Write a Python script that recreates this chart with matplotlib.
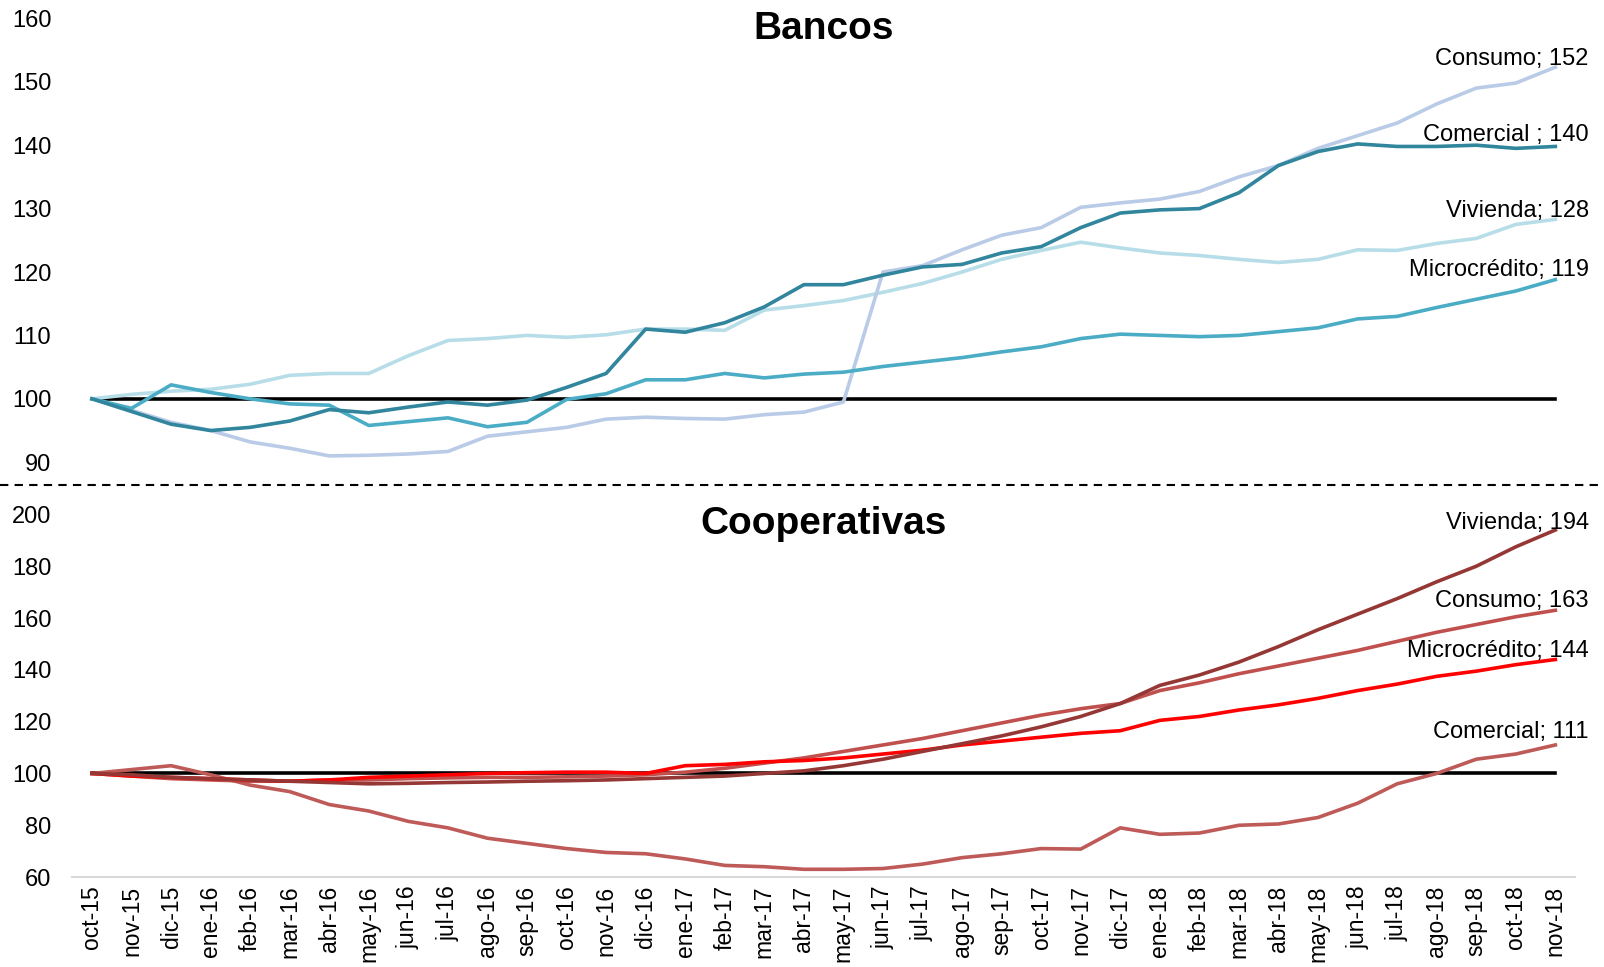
import matplotlib
matplotlib.use('Agg')
import matplotlib.pyplot as plt
import numpy as np
from matplotlib.lines import Line2D

plt.rcParams['font.family'] = ['Liberation Sans', 'DejaVu Sans']

meses = ['oct-15', 'nov-15', 'dic-15', 'ene-16', 'feb-16', 'mar-16', 'abr-16', 'may-16',
         'jun-16', 'jul-16', 'ago-16', 'sep-16', 'oct-16', 'nov-16', 'dic-16', 'ene-17',
         'feb-17', 'mar-17', 'abr-17', 'may-17', 'jun-17', 'jul-17', 'ago-17', 'sep-17',
         'oct-17', 'nov-17', 'dic-17', 'ene-18', 'feb-18', 'mar-18', 'abr-18', 'may-18',
         'jun-18', 'jul-18', 'ago-18', 'sep-18', 'oct-18', 'nov-18']

# Bancos
ban_comercial = [100, 98, 96, 95, 95.5, 96.5, 98.3, 97.8, 98.7, 99.5, 99, 99.8, 101.8, 104,
                 111, 110.5, 112, 114.5, 118, 118, 119.5, 120.8, 121.2, 123, 124, 127, 129.3,
                 129.8, 130, 132.5, 136.8, 139, 140.2, 139.8, 139.8, 140, 139.5, 139.8]
ban_consumo = [100, 98.2, 96.3, 95, 93.2, 92.2, 91, 91.1, 91.3, 91.7, 94.1, 94.8, 95.5, 96.8,
               97.1, 96.9, 96.8, 97.5, 97.9, 99.5, 120, 121, 123.5, 125.8, 127, 130.2, 130.9,
               131.5, 132.7, 135, 136.8, 139.5, 141.5, 143.5, 146.5, 149, 149.8, 152.3]
ban_vivienda = [100, 100.7, 101.2, 101.5, 102.3, 103.7, 104, 104, 106.8, 109.2, 109.5, 110,
                109.7, 110.1, 111, 111, 110.8, 114, 114.7, 115.5, 116.8, 118.2, 120, 122,
                123.4, 124.7, 123.8, 123, 122.6, 122, 121.5, 122, 123.5, 123.4, 124.5, 125.3,
                127.5, 128.3]
ban_micro = [100, 98.5, 102.2, 101, 100, 99.2, 99, 95.8, 96.4, 97, 95.6, 96.3, 99.9, 100.8,
             103, 103, 104, 103.3, 103.9, 104.2, 105.1, 105.8, 106.5, 107.4, 108.2, 109.5,
             110.2, 110, 109.8, 110, 110.6, 111.2, 112.6, 113, 114.4, 115.7, 117, 118.8]

# Cooperativas
coop_vivienda = [100, 99.5, 98.5, 98, 97.5, 97, 96.5, 96, 96.2, 96.5, 96.7, 97, 97.2, 97.5,
                 98, 98.5, 99, 100, 101, 103, 105.5, 108.5, 111.5, 114.5, 118, 122, 127, 134,
                 138, 143, 149, 155.5, 161.5, 167.5, 174, 180, 187.5, 194]
coop_consumo = [100, 99, 98, 97.5, 97, 97, 97.5, 97.5, 98, 98.3, 98.5, 98.5, 98.7, 99, 99.5,
                100.5, 102, 104, 106, 108.5, 111, 113.5, 116.5, 119.5, 122.5, 125, 127, 132,
                135, 138.5, 141.5, 144.5, 147.5, 151, 154.5, 157.5, 160.5, 163]
coop_micro = [100, 99, 98.5, 98, 97.5, 97, 97.5, 98.5, 99, 99.5, 100, 100.3, 100.5, 100.5,
              100, 103, 103.5, 104.5, 105, 106, 107.5, 109, 111, 112.5, 114, 115.5, 116.5,
              120.5, 122, 124.5, 126.5, 129, 132, 134.5, 137.5, 139.5, 142, 144]
coop_comercial = [100, 101.5, 103, 99.5, 95.5, 93, 88, 85.5, 81.5, 79, 75, 73, 71, 69.5, 69,
                  67, 64.5, 64, 63, 63, 63.3, 65, 67.5, 69, 71, 70.8, 79, 76.5, 77, 80, 80.5,
                  83, 88.5, 96, 100, 105.5, 107.5, 111]

x = np.arange(len(meses))

fig = plt.figure(figsize=(16.04, 9.67), dpi=100)
ax1 = fig.add_axes([0.045, 0.522, 0.937, 0.459])
ax2 = fig.add_axes([0.045, 0.093, 0.937, 0.375])

lw = 2.6
ax1.plot(x, [100] * len(x), color='black', lw=2.6, zorder=1)
ax1.plot(x, ban_vivienda, color='#B7DEE8', lw=lw)
ax1.plot(x, ban_consumo, color='#B9CBE6', lw=lw)
ax1.plot(x, ban_micro, color='#4BACC6', lw=lw)
ax1.plot(x, ban_comercial, color='#31859C', lw=lw)

ax2.plot(x, [100] * len(x), color='black', lw=2.6, zorder=1)
ax2.plot(x, coop_comercial, color='#BE5A57', lw=lw)
ax2.plot(x, coop_consumo, color='#C0504D', lw=lw)
ax2.plot(x, coop_micro, color='#FF0000', lw=lw)
ax2.plot(x, coop_vivienda, color='#953735', lw=lw)

ax1.set_ylim(90, 160)
ax1.set_yticks(np.arange(90, 161, 10))
ax2.set_ylim(60, 200)
ax2.set_yticks(np.arange(60, 201, 20))

for ax in (ax1, ax2):
    ax.set_xlim(-0.5, len(x) - 0.5)
    for s in ax.spines.values():
        s.set_visible(False)
    ax.tick_params(axis='y', length=0, pad=15, labelsize=17)
    ax.patch.set_alpha(0)

ax1.set_xticks([])
ax2.spines['bottom'].set_visible(True)
ax2.spines['bottom'].set_color('#D9D9D9')
ax2.spines['bottom'].set_linewidth(1.5)
ax2.set_xticks(x)
ax2.set_xticklabels(meses, rotation=90, fontsize=16.5)
ax2.tick_params(axis='x', length=0, pad=6)

ax1.text(0.5, 0.975, 'Bancos', transform=ax1.transAxes, ha='center', va='center',
         fontsize=28, fontweight='bold')
ax2.text(0.5, 0.975, 'Cooperativas', transform=ax2.transAxes, ha='center', va='center',
         fontsize=28, fontweight='bold')

def etiqueta(ax, texto, valor, dy):
    ax.annotate(texto, xy=(x[-1], valor), xytext=(24, dy), textcoords='offset points',
                ha='right', va='center', fontsize=17)

etiqueta(ax1, 'Consumo; 152', ban_consumo[-1], 6)
etiqueta(ax1, 'Comercial ; 140', ban_comercial[-1], 8)
etiqueta(ax1, 'Vivienda; 128', ban_vivienda[-1], 6)
etiqueta(ax1, 'Microcrédito; 119', ban_micro[-1], 7)

etiqueta(ax2, 'Vivienda; 194', coop_vivienda[-1], 5)
etiqueta(ax2, 'Consumo; 163', coop_consumo[-1], 7)
etiqueta(ax2, 'Microcrédito; 144', coop_micro[-1], 6)
etiqueta(ax2, 'Comercial; 111', coop_comercial[-1], 9)

fig.add_artist(Line2D([0, 1], [0.4985, 0.4985], transform=fig.transFigure,
                      color='black', lw=1.5, linestyle=(0, (4, 3))))

fig.savefig('out.png', dpi=100, facecolor='white')
